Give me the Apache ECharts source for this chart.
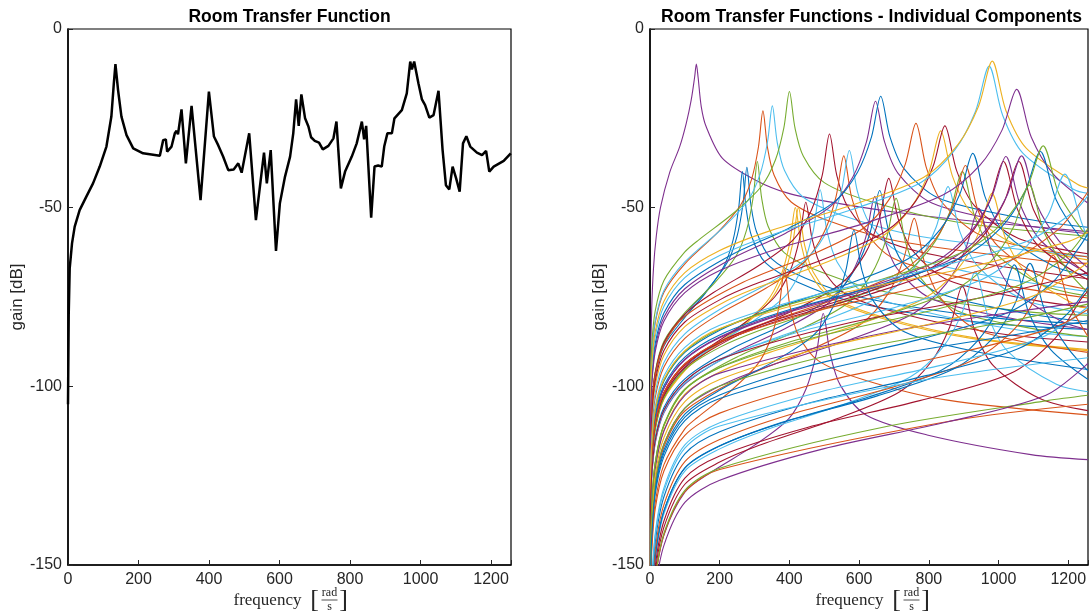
<!DOCTYPE html>
<html>
<head>
<meta charset="utf-8">
<script src="https://cdn.jsdelivr.net/npm/echarts@6.0.0/dist/echarts.min.js"></script>
<style>
html, body { margin: 0; padding: 0; background: #fff; }
#main { width: 1091px; height: 615px; }
</style>
</head>
<body>
<div id="main"></div>
<script>
// frequency axis runs 0 .. 400*pi rad/s
var freqMax = 400 * Math.PI;
var xStep = 200;
var yMin = -150, yMax = 0, yStep = 50;
// gain at 0 rad/s is -inf: drawn off-scale
var dcGain = -200;

// MATLAB default line colours
var lineColors = ['#0072BD', '#D95319', '#EDB120', '#7E2F8E', '#77AC30', '#4DBEEE', '#A2142F'];

// left plot: total room transfer function [rad/s, dB]
var roomResponse = [[0,-105],[2,-80],[4.8,-67],[11.4,-60],[19,-55.3],[33,-50.7],[52,-46.9],[71,-43.2],[90,-38.5],[109,-32.9],[123,-24.5],[130,-15.2],[134.6,-9.8],[142,-17.1],[151.6,-24.5],[166,-29.7],[185,-33.4],[213,-34.8],[260.5,-35.5],[265,-35.7],[270,-31.1],[277.5,-30.9],[281.3,-34.3],[293.7,-32.9],[303,-29.2],[308,-28.5],[312,-29.5],[322,-22.5],[334.4,-37.6],[350.5,-21.5],[376,-47.9],[399.7,-17.5],[414,-30.1],[426,-32.5],[440,-35.7],[454.6,-39.5],[470,-39.3],[483,-37.6],[492.6,-40.2],[514,-29.2],[533,-53.5],[556,-34.6],[564,-43.2],[575,-33.9],[590,-62.1],[601,-48.8],[615.6,-41.3],[630,-35.7],[639,-29.2],[647,-19.7],[654.5,-27.1],[662,-18.3],[672.5,-25],[682,-27.3],[689.5,-30.3],[700,-31.3],[705,-31],[712,-31.8],[722.7,-33.7],[738.7,-32.7],[753,-30.6],[761.5,-25.9],[774,-44.6],[786,-39.9],[805,-35.7],[819,-32],[833.6,-25.9],[840,-30.9],[845.8,-27.1],[860,-52.8],[869.5,-38.5],[880,-38.2],[890,-38.5],[897,-32.9],[906,-29.2],[918.7,-29.2],[926,-25],[947,-22.7],[961,-18],[970.8,-9.1],[975.6,-11.3],[982,-9.1],[994,-15.2],[1004,-19.7],[1013,-21.3],[1025,-24.8],[1037,-24.1],[1051,-17.3],[1062.6,-33.9],[1072,-43.7],[1081.6,-44.9],[1091,-38.5],[1101,-41.8],[1111,-45.5],[1120.5,-32],[1130,-30],[1141,-32.9],[1160,-34.6],[1174.5,-35.3],[1186,-34.1],[1195,-39.9],[1207.5,-38.5],[1236,-36.9],[1256,-34.8]];

// right plot: one colour index per component
var componentColor = [3,0,0,4,1,5,4,2,2,6,5,6,1,5,3,3,0,0,6,4,1,1,2,6,5,4,1,0,3,5,2,2,6,3,3,6,3,4,0,4,5,1,3,0,6,5,0,0,1,
  1,5,2,0,6,0,5,1,4,3,6,2,4,0,5,1,4,3];

// right plot: individual modal components [rad/s, dB]
var componentCurves = [
  [[0.5,-120],[1.5,-95],[5,-78],[10,-67],[18,-58],[30,-50],[57,-40],[85,-33],[104,-26.4],[118,-20],[128,-13.5],[133,-9.8],[138,-13.5],[147,-21.7],[161,-27.3],[208,-36.2],[303,-42.3],[398,-46],[540,-48.8],[700,-51.2],[900,-53.5],[1256,-56.7]],
  [[1.5,-117.2],[5,-106.7],[15,-97.2],[40,-88.7],[100,-80.7],[159,-73.9],[212,-66.4],[238.5,-59],[254.4,-50.1],[265,-39.9],[275.6,-50.1],[291.5,-58],[331,-65.4],[424,-70.9],[583,-76.4],[927.5,-81.9],[1256,-84.1]],
  [[1.5,-116.4],[5,-105.9],[15,-96.4],[40,-87.9],[100,-79.9],[166.8,-72.7],[222.4,-65.2],[250.2,-57.8],[266.9,-48.9],[278,-38.7],[289.1,-48.9],[305.8,-56.8],[347.5,-64.2],[444.8,-69.7],[611.6,-75.2],[973,-80.7],[1256,-82.5]],
  [[1.5,-115.9],[5,-105.4],[15,-95.9],[40,-87.4],[100,-79.4],[184.8,-71.1],[246.4,-63.6],[277.2,-56.2],[295.7,-47.3],[308,-37.1],[320.3,-47.3],[338.8,-55.2],[385,-62.6],[492.8,-68.1],[677.6,-73.6],[1078,-79.1],[1256,-80.1]],
  [[1.5,-102.2],[5,-91.7],[15,-82.2],[40,-73.7],[100,-65.7],[194.4,-56.9],[259.2,-49.4],[291.6,-42],[311,-33.1],[324,-22.9],[337,-33.1],[356.4,-41],[405,-48.4],[518.4,-53.9],[712.8,-59.4],[1134,-64.9],[1256,-65.6]],
  [[1.5,-101.7],[5,-91.2],[15,-81.7],[40,-73.2],[100,-65.2],[210.6,-55.5],[280.8,-48],[315.9,-40.6],[337,-31.7],[351,-21.5],[365,-31.7],[386,-39.6],[438.8,-47],[561.6,-52.5],[772,-58],[1228.5,-63.5],[1256,-63.6]],
  [[1.5,-98.9],[5,-88.4],[15,-78.9],[40,-70.4],[100,-62.4],[140,-59],[240,-51.5],[320,-44],[360,-36.6],[384,-27.7],[400,-17.5],[416,-27.7],[440,-35.6],[500,-43],[640,-48.5],[880,-54],[1256,-58]],
  [[1.5,-131.9],[5,-121.4],[15,-111.9],[40,-103.4],[100,-95.4],[146,-91.5],[250,-84],[333.6,-76.5],[375.3,-69.1],[400.3,-60.2],[417,-50],[433.7,-60.2],[458.7,-68.1],[521,-75.5],[667,-81],[917,-86.5],[1256,-90]],
  [[1.5,-132.1],[5,-121.6],[15,-112.1],[40,-103.6],[100,-95.6],[149,-91.5],[255.6,-84],[340.8,-76.5],[383.4,-69.1],[409,-60.2],[426,-50],[443,-60.2],[468.6,-68.1],[532.5,-75.5],[681.6,-81],[937,-86.5],[1256,-89.7]],
  [[1.5,-131.1],[5,-120.6],[15,-111.1],[40,-102.6],[100,-94.6],[156.5,-90],[268,-82.5],[357.6,-75],[402.3,-67.6],[429,-58.7],[447,-48.5],[465,-58.7],[491.7,-66.6],[558.8,-74],[715,-79.5],[983.4,-85],[1256,-87.6]],
  [[1.5,-131.4],[5,-120.9],[15,-111.4],[40,-102.9],[100,-94.9],[170.8,-89.5],[292.8,-82],[390.4,-74.5],[439,-66.2],[468.5,-56.4],[488,-45],[507.5,-56.4],[536.8,-65.2],[610,-73.5],[780.8,-79],[1073.6,-84.5],[1256,-86.1]],
  [[1.5,-116.3],[5,-105.8],[15,-96.3],[40,-87.8],[100,-79.8],[180,-73.9],[309,-66.4],[412,-58.9],[463.5,-50.6],[494.4,-40.8],[515,-29.4],[535.6,-40.8],[566.5,-49.6],[643.8,-57.9],[824,-63.4],[1256,-69.9]],
  [[1.5,-123.1],[5,-112.6],[15,-103.1],[40,-94.6],[100,-86.6],[194.6,-80],[333.6,-72.5],[444.8,-65],[500.4,-56.7],[533.8,-46.9],[556,-35.5],[578,-46.9],[611.6,-55.7],[695,-64],[889.6,-69.5],[1256,-75.3]],
  [[1.5,-121.8],[5,-111.3],[15,-101.8],[40,-93.3],[100,-85.3],[200,-78.5],[343,-71],[457.6,-63.5],[514.8,-55.2],[549,-45.4],[572,-34],[595,-45.4],[629,-54.2],[715,-62.5],[915,-68],[1256,-73.5]],
  [[1.5,-135.9],[5,-125.4],[15,-115.9],[40,-107.4],[100,-99.4],[225.8,-91.4],[387,-83.9],[516,-76.4],[580.5,-68.1],[619,-58.3],[645,-46.9],[670.8,-58.3],[709.5,-67.1],[806,-75.4],[1032,-80.9],[1256,-84.1]],
  [[1.5,-109.2],[5,-98.7],[15,-89.2],[40,-80.7],[100,-72.7],[226.5,-64.7],[388,-57.2],[517.6,-49.7],[582,-41.4],[621,-31.6],[647,-20.2],[673,-31.6],[711.7,-40.4],[808.8,-48.7],[1035,-54.2],[1256,-57.3]],
  [[1.5,-134.4],[5,-123.9],[15,-114.4],[40,-105.9],[100,-97.9],[230.7,-89.7],[395.4,-82.2],[527,-74.7],[593,-66.4],[632.6,-56.6],[659,-45.2],[685,-56.6],[725,-65.4],[823.8,-73.7],[1054,-79.2],[1256,-82]],
  [[1.5,-108],[5,-97.5],[15,-88],[40,-79.5],[100,-71.5],[231.7,-63.3],[397,-55.8],[529.6,-48.3],[595.8,-40],[635.5,-30.2],[662,-18.8],[688.5,-30.2],[728,-39],[827.5,-47.3],[1059,-52.8],[1256,-55.5]],
  [[1.5,-131.3],[5,-120.8],[15,-111.3],[40,-102.8],[100,-94.8],[239.8,-86.3],[411,-78.8],[548,-71.3],[616.5,-63],[657.6,-53.2],[685,-41.8],[712.4,-53.2],[753.5,-62],[856,-70.3],[1096,-75.8],[1256,-77.9]],
  [[1.5,-146.3],[5,-133.2],[15,-121.3],[40,-110.7],[100,-100.7],[247,-91.9],[423.6,-84.4],[564.8,-76.9],[635.4,-68.6],[677.8,-58.8],[706,-47.4],[734,-60],[776.6,-69.7],[882.5,-78.9],[1129.6,-84.4],[1256,-86.1]],
  [[1.5,-152.5],[5,-139.4],[15,-127.5],[40,-116.9],[100,-106.9],[265.3,-97.5],[454.8,-90],[606.4,-82.5],[682.2,-74.2],[727.7,-64.4],[758,-53],[788.3,-65.6],[833.8,-75.3],[947.5,-84.5],[1256,-90.5]],
  [[1.5,-116.9],[5,-106.4],[15,-96.9],[40,-88.4],[100,-80.4],[267,-70.9],[457.8,-63.4],[610.4,-55.9],[686.7,-47.6],[732.5,-37.8],[763,-26.4],[793.5,-39],[839.3,-48.7],[953.8,-57.9],[1256,-63.8]],
  [[1.5,-119.8],[5,-109.3],[15,-99.8],[40,-91.3],[100,-83.3],[200,-77.1],[291.9,-73],[500.4,-65.5],[667.2,-58],[750.6,-49.7],[800.6,-39.9],[834,-28.5],[867.4,-41.1],[917.4,-50.8],[1042.5,-60],[1256,-64.6]],
  [[1.5,-118.5],[5,-108],[15,-98.5],[40,-90],[100,-82],[200,-75.8],[296,-71.6],[507.6,-64.1],[676.8,-56.6],[761.4,-48.3],[812,-38.5],[846,-27.1],[880,-39.7],[930.6,-49.4],[1057.5,-58.6],[1256,-62.9]],
  [[1.5,-135.6],[5,-125.1],[15,-115.6],[40,-107.1],[100,-99.1],[200,-92.9],[299,-88.6],[513,-81.1],[684,-73.6],[769.5,-65.3],[820.8,-55.5],[855,-44.1],[889,-56.7],[940.5,-66.4],[1068.8,-75.6],[1256,-79.7]],
  [[1.5,-131.8],[5,-121.3],[15,-111.8],[40,-103.3],[100,-95.3],[200,-89.1],[313.6,-84.4],[537.6,-76.9],[716.8,-69.4],[806.4,-61.1],[860,-51.3],[896,-39.9],[931.8,-52.5],[985.6,-62.2],[1120,-71.4],[1256,-74.7]],
  [[1.5,-130.2],[5,-119.7],[15,-110.2],[40,-101.7],[100,-93.7],[200,-87.5],[316.8,-82.7],[543,-75.2],[724,-67.7],[814.5,-59.4],[868.8,-49.6],[905,-38.2],[941.2,-50.8],[995.5,-60.5],[1131,-69.7],[1256,-72.9]],
  [[1.5,-127],[5,-116.5],[15,-107],[40,-98.5],[100,-90.5],[200,-84.3],[324,-79.3],[555.6,-71.8],[740.8,-64.3],[833.4,-56],[889,-46.2],[926,-34.8],[963,-47.4],[1018.6,-57.1],[1157.5,-66.3],[1256,-69]],
  [[1.5,-151.7],[5,-138.6],[15,-126.7],[40,-116.1],[100,-106.1],[200,-99.9],[330,-94.7],[565.8,-87.2],[754.4,-79.7],[848.7,-71.4],[905.3,-61.6],[943,-50.2],[980.7,-62.8],[1037.3,-72.5],[1178.8,-81.7],[1256,-84.1]],
  [[1.5,-106.1],[5,-95.6],[15,-86.1],[40,-77.6],[100,-69.6],[200,-63.4],[340.6,-57.9],[583.8,-50.4],[778.4,-42.9],[875.7,-33.7],[934,-23],[973,-10.4],[1012,-24.2],[1070.3,-34.8],[1216,-44.9],[1256,-46]],
  [[1.5,-147.8],[5,-134.7],[15,-122.8],[40,-112.2],[100,-102.2],[200,-96],[343.4,-90.5],[588.6,-83],[784.8,-75.5],[882.9,-67.2],[941.8,-57.4],[981,-46],[1020,-58.6],[1079,-68.3],[1226,-77.5],[1256,-78]],
  [[1.5,-104.7],[5,-94.2],[15,-84.7],[40,-76.2],[100,-68.2],[200,-62],[343.7,-56.5],[589,-49],[785.6,-41.5],[883.8,-32.3],[942.7,-21.6],[982,-9],[1021,-22.8],[1080,-33.4],[1227.5,-43.5],[1256,-44.5]],
  [[1.5,-130.2],[5,-119.7],[15,-110.2],[40,-101.7],[100,-93.7],[200,-87.5],[355,-81.6],[608.4,-74.1],[811.2,-66.6],[912.6,-58.3],[973.4,-48.5],[1014,-37.1],[1054.6,-50.5],[1115.4,-60.8],[1256,-70.2]],
  [[1.5,-128.9],[5,-118.4],[15,-108.9],[40,-100.4],[100,-92.4],[200,-86.2],[357,-80.2],[612.6,-72.7],[816.8,-65.2],[919,-56.9],[980,-47.1],[1021,-35.7],[1062,-49.1],[1123,-59.4],[1256,-68.5]],
  [[1.5,-110.3],[5,-99.8],[15,-90.3],[40,-81.8],[100,-73.8],[200,-67.6],[368,-61.4],[631,-53.9],[841.6,-46.4],[946.8,-38.1],[1010,-28.3],[1052,-16.9],[1094,-30.3],[1157,-40.6],[1256,-48.7]],
  [[1.5,-130.6],[5,-120.1],[15,-110.6],[40,-102.1],[100,-94.1],[200,-87.9],[370,-81.6],[634.8,-74.1],[846.4,-66.6],[952.2,-58.3],[1015.7,-48.5],[1058,-37.1],[1100,-50.5],[1164,-60.8],[1256,-68.7]],
  [[1.5,-129.1],[5,-118.6],[15,-109.1],[40,-100.6],[100,-92.6],[200,-86.4],[373,-80],[639.6,-72.5],[852.8,-65],[959.4,-56.7],[1023,-46.9],[1066,-35.5],[1108.6,-48.9],[1172.6,-59.2],[1256,-66.8]],
  [[1.5,-146.5],[5,-133.4],[15,-121.5],[40,-110.9],[100,-100.9],[200,-94.7],[380.8,-88.2],[652.8,-80.7],[870.4,-73.2],[979.2,-64.9],[1044.5,-55.1],[1088,-43.7],[1131.5,-57.1],[1196.8,-67.4],[1256,-73.8]],
  [[1.5,-128.3],[5,-117.8],[15,-108.3],[40,-99.8],[100,-91.8],[200,-85.6],[392,-78.8],[672,-71.3],[896,-63.8],[1008,-55.5],[1075,-45.7],[1120,-34.3],[1164.8,-47.7],[1232,-58],[1256,-59.2]],
  [[1.5,-126.7],[5,-116.2],[15,-106.7],[40,-98.2],[100,-90.2],[200,-84],[394.8,-77.2],[676.8,-69.7],[902.4,-62.2],[1015,-53.9],[1083,-44.1],[1128,-32.7],[1173,-46.1],[1240.8,-56.4],[1256,-57.5]],
  [[1.5,-135.1],[5,-124.6],[15,-115.1],[40,-106.6],[100,-98.6],[200,-92.4],[416.5,-85.1],[714,-77.6],[952,-70.1],[1071,-61.8],[1142.4,-52],[1190,-40.6],[1237.6,-54],[1256,-58.6]],
  [[1.5,-157.5],[5,-144.4],[15,-132.5],[40,-121.9],[100,-111.9],[135,-108.8],[231.6,-101.3],[308.8,-93.8],[347.4,-86.4],[370.6,-77.5],[386,-67.3],[401.4,-77.5],[424.6,-85.4],[482.5,-92.8],[617.6,-98.3],[849,-103.8],[1256,-108]],
  [[1.5,-184.3],[5,-168.6],[15,-154.3],[40,-141.6],[100,-129.6],[174,-124.1],[298,-116.6],[397.6,-109.1],[447.3,-100.8],[477,-91],[497,-79.6],[517,-91],[546.7,-99.8],[621,-108.1],[795,-113.6],[1093,-119.1],[1256,-120.5]],
  [[1.5,-153.4],[5,-140.3],[15,-128.4],[40,-117.8],[100,-107.8],[204.8,-100.8],[351,-93.3],[468,-85.8],[526.5,-77.5],[561.6,-67.7],[585,-56.3],[608.4,-67.7],[643.5,-76.5],[731,-84.8],[936,-90.3],[1256,-95.3]],
  [[1.5,-182.1],[5,-166.4],[15,-152.1],[40,-139.4],[100,-127.4],[200,-121.2],[313.6,-116.5],[537.6,-109],[716.8,-101.5],[806.4,-93.2],[860,-83.4],[896,-72],[932,-84.6],[985.6,-94.3],[1120,-103.5],[1256,-106.8]],
  [[1.5,-178.4],[5,-162.7],[15,-148.4],[40,-135.7],[100,-123.7],[200,-117.5],[326.6,-112.4],[559.8,-104.9],[746.4,-97.4],[839.7,-89.1],[895.7,-79.3],[933,-67.9],[970.3,-80.5],[1026.3,-90.2],[1166,-99.4],[1256,-101.5]],
  [[1.5,-177.6],[5,-161.9],[15,-147.6],[40,-134.9],[100,-122.9],[200,-116.7],[365.8,-110.5],[627,-103],[836,-95.5],[940.5,-87.2],[1003,-77.4],[1045,-66],[1086.8,-79.4],[1149.5,-89.7],[1256,-98]],
  [[1.5,-177.5],[5,-161.8],[15,-147.5],[40,-134.8],[100,-122.8],[200,-116.6],[381.5,-110.1],[654,-102.6],[872,-95.1],[981,-86.8],[1046.4,-77],[1090,-65.6],[1133.6,-79],[1199,-89.3],[1256,-95.6]],
  [[1.5,-175.8],[5,-160.1],[15,-145.8],[40,-133.1],[100,-121.1],[200,-114.9],[404.6,-107.8],[693.6,-100.3],[924.8,-92.8],[1040.4,-84.5],[1109.8,-74.7],[1156,-63.3],[1202,-76.7],[1256,-86]],
  // components whose resonance lies above the plotted band
  [[1.5,-130.3],[5,-119.8],[15,-110.3],[40,-101.8],[100,-93.8],[200,-87.6],[455,-79.5],[780,-72],[1040,-64.5],[1170,-56.2],[1220,-50.5],[1256,-45.6]],
  [[1.5,-125.6],[5,-115.1],[15,-105.6],[40,-97.1],[100,-89.1],[200,-82.9],[472.5,-74.5],[810,-67],[1080,-59.5],[1215,-51.2],[1256,-46.7]],
  [[1.5,-126.5],[5,-116],[15,-106.5],[40,-98],[100,-90],[200,-83.8],[525,-74.5],[900,-67],[1200,-59.5],[1256,-56.9]],
  [[1.5,-154.2],[5,-141.1],[15,-129.2],[40,-118.6],[100,-108.6],[200,-102.4],[448,-94.5],[768,-87],[1024,-79.5],[1152,-71.2],[1229,-61.4],[1256,-57.4]],
  [[1.5,-180.4],[5,-164.7],[15,-150.4],[40,-137.7],[100,-125.7],[200,-119.5],[451.5,-111.5],[774,-104],[1032,-96.5],[1161,-86.7],[1238,-75.4],[1256,-73.4]],
  [[1.5,-173.6],[5,-157.9],[15,-143.6],[40,-130.9],[100,-118.9],[200,-112.7],[462,-104.5],[792,-97],[1056,-89.5],[1188,-80.6],[1256,-72.2]],
  [[1.5,-171.1],[5,-155.4],[15,-141.1],[40,-128.4],[100,-116.4],[200,-110.2],[490,-101.5],[840,-94],[1120,-86.5],[1256,-77.8]],
  [[1.5,-159.3],[5,-146.2],[15,-134.3],[40,-123.7],[100,-113.7],[200,-107.5],[507.5,-98.5],[870,-91],[1160,-83.5],[1256,-78.5]],
  [[1.5,-151.7],[5,-138.6],[15,-126.7],[40,-116.1],[100,-106.1],[200,-99.9],[595,-89.5],[1020,-82],[1256,-77]],
  [[1.5,-148.1],[5,-135],[15,-123.1],[40,-112.5],[100,-102.5],[200,-96.3],[700,-84.5],[1200,-77],[1256,-76.3]],
  [[1.5,-135.1],[5,-124.6],[15,-115.1],[40,-106.6],[100,-98.6],[200,-92.4],[560,-82.5],[960,-75],[1256,-68.2]],
  [[1.5,-149.9],[5,-136.8],[15,-124.9],[40,-114.3],[100,-104.3],[200,-98.1],[483,-89.5],[828,-82],[1104,-74.5],[1256,-65.4]],
  [[1.5,-146.6],[5,-133.5],[15,-121.6],[40,-111],[100,-101],[200,-94.8],[465.5,-86.5],[798,-79],[1064,-71.5],[1197,-63.2],[1256,-55.9]],
  [[1.5,-155.2],[5,-142.1],[15,-130.2],[40,-119.6],[100,-109.6],[200,-103.4],[630,-92.5],[1080,-85],[1256,-81.6]],
  [[1.5,-172],[5,-156.3],[15,-142],[40,-129.3],[100,-117.3],[200,-111.1],[770,-98.5],[1256,-92]],
  [[5,-168.5],[15,-154.2],[40,-141.5],[100,-129.5],[200,-123.3],[875,-109.5],[1256,-105]],
  [[5,-168.1],[15,-153.8],[40,-141.1],[100,-129.1],[200,-122.9],[665,-111.5],[1140,-104],[1256,-102.5]],
  [[5,-171.5],[15,-157.2],[40,-144.5],[100,-132.5],[200,-126.3],[497,-117.5],[852,-110],[1136,-102.5],[1256,-93.6]]
];

var myChart = echarts.init(document.getElementById('main'), null, { renderer: 'canvas' });

var labelFont = 'Liberation Sans';
var gridLeft = [68, 650];
var gridWidth = 443;

function makeXAxis(idx) {
    return {
        type: 'value', gridIndex: idx, min: 0, max: freqMax, interval: xStep,
        axisLine: { show: true, onZero: false, lineStyle: { color: '#000', width: 1.5 } },
        axisTick: { show: true, inside: true, length: 5, lineStyle: { color: '#262626', width: 1 } },
        axisLabel: {
            color: '#262626', fontSize: 16, fontFamily: labelFont, margin: 7,
            // only the 200-step ticks are labelled
            formatter: function (v) { return Math.abs(v % xStep) < 1e-6 ? String(v) : ''; }
        },
        splitLine: { show: false }
    };
}

function makeYAxis(idx) {
    return {
        type: 'value', gridIndex: idx, min: yMin, max: yMax, interval: yStep,
        name: 'gain [dB]', nameLocation: 'middle', nameGap: 37,
        nameTextStyle: { color: '#262626', fontSize: 17, fontFamily: labelFont },
        axisLine: { show: true, onZero: false, lineStyle: { color: '#000', width: 1.5 } },
        axisTick: { show: true, inside: true, length: 5, lineStyle: { color: '#262626', width: 1 } },
        axisLabel: { color: '#262626', fontSize: 16, fontFamily: labelFont, margin: 6 },
        splitLine: { show: false }
    };
}

// x axis title "frequency [rad/s]" with a stacked fraction
function freqLabel(cx) {
    var serif = '"Liberation Serif", "DejaVu Serif", serif';
    return [
        { type: 'text', x: cx - 56, y: 601, style: { text: 'frequency', font: '17px ' + serif, fill: '#262626', textAlign: 'left', textVerticalAlign: 'middle', align: 'left', verticalAlign: 'middle' } },
        { type: 'text', x: cx + 25, y: 600, style: { text: '[', font: '26px ' + serif, fill: '#262626', textAlign: 'center', textVerticalAlign: 'middle', align: 'center', verticalAlign: 'middle' } },
        { type: 'text', x: cx + 40, y: 593, style: { text: 'rad', font: '12px ' + serif, fill: '#262626', textAlign: 'center', textVerticalAlign: 'middle', align: 'center', verticalAlign: 'middle' } },
        { type: 'line', shape: { x1: cx + 32, y1: 600, x2: cx + 48, y2: 600 }, style: { stroke: '#262626', lineWidth: 0.8 } },
        { type: 'text', x: cx + 40, y: 607, style: { text: 's', font: '12px ' + serif, fill: '#262626', textAlign: 'center', textVerticalAlign: 'middle', align: 'center', verticalAlign: 'middle' } },
        { type: 'text', x: cx + 54, y: 600, style: { text: ']', font: '26px ' + serif, fill: '#262626', textAlign: 'center', textVerticalAlign: 'middle', align: 'center', verticalAlign: 'middle' } }
    ];
}

function titleText(cx, txt) {
    return { type: 'text', x: cx, y: 17, style: { text: txt, font: 'bold 17.5px "Liberation Sans"', fill: '#000', textAlign: 'center', textVerticalAlign: 'middle', align: 'center', verticalAlign: 'middle' } };
}

var series = [{
    type: 'line', xAxisIndex: 0, yAxisIndex: 0,
    data: roomResponse, showSymbol: false, silent: true,
    lineStyle: { color: '#000', width: 2.5 }
}];

componentCurves.forEach(function (pts, i) {
    series.push({
        type: 'line', xAxisIndex: 1, yAxisIndex: 1,
        data: [[0, dcGain]].concat(pts),
        showSymbol: false, silent: true,
        smooth: 0.3,
        lineStyle: { color: lineColors[componentColor[i]], width: 1.1 }
    });
});

var cx0 = gridLeft[0] + gridWidth / 2;
var cx1 = gridLeft[1] + gridWidth / 2;

myChart.setOption({
    animation: false,
    backgroundColor: '#fff',
    grid: [
        { left: gridLeft[0], top: 29, width: gridWidth, height: 536, show: true, borderColor: '#000', borderWidth: 1.2, backgroundColor: 'transparent' },
        { left: gridLeft[1], top: 29, width: gridWidth, height: 536, show: true, borderColor: '#000', borderWidth: 1.2, backgroundColor: 'transparent' }
    ],
    xAxis: [makeXAxis(0), makeXAxis(1)],
    yAxis: [makeYAxis(0), makeYAxis(1)],
    graphic: [titleText(cx0, 'Room Transfer Function'), titleText(cx1, 'Room Transfer Functions - Individual Components')]
        .concat(freqLabel(cx0)).concat(freqLabel(cx1)),
    series: series
});

window.onresize = function () { myChart.resize(); };
</script>
</body>
</html>
